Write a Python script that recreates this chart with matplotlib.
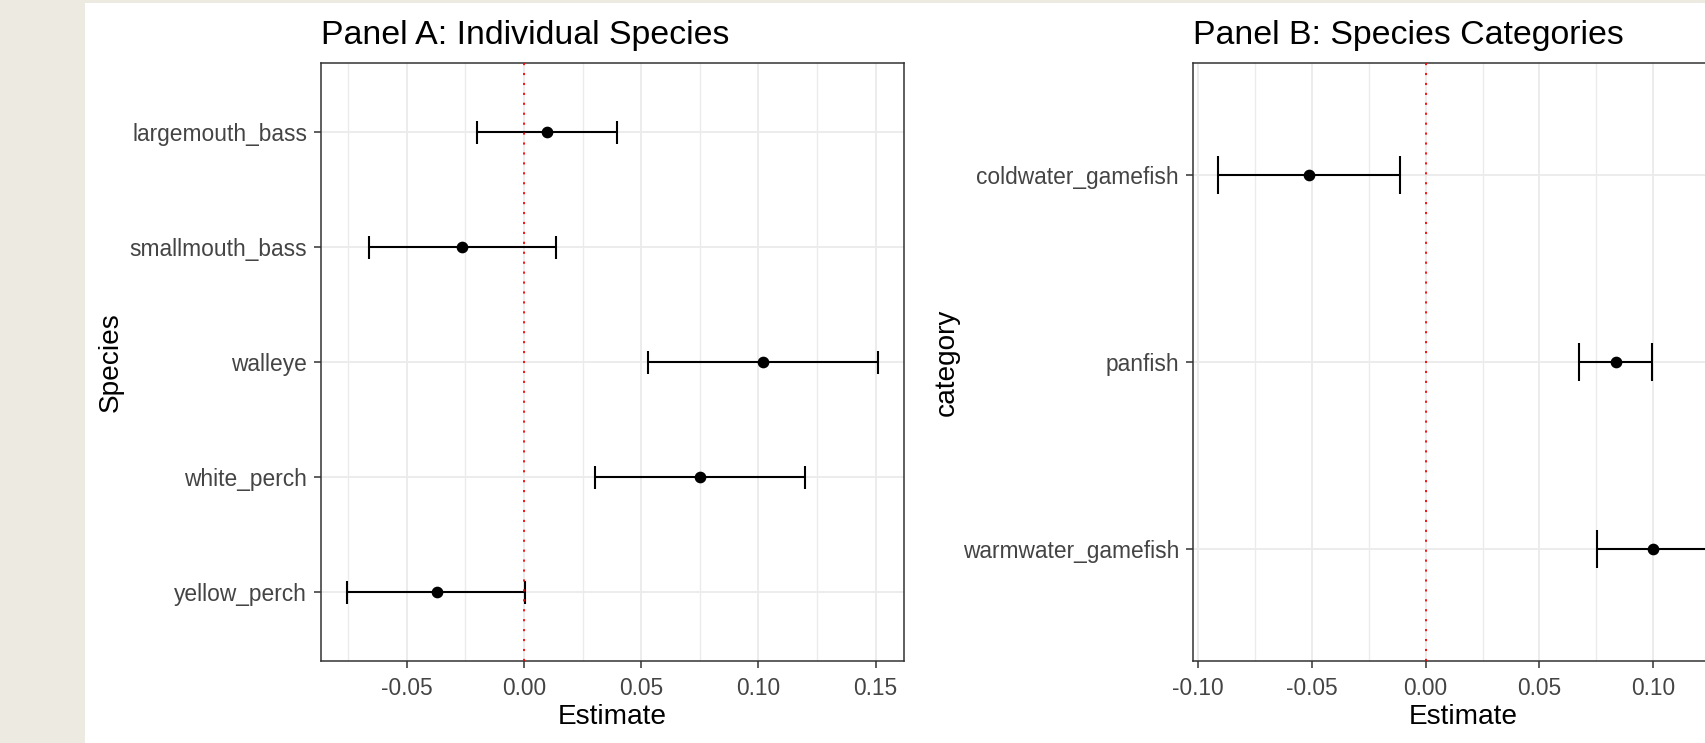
import numpy as np
import matplotlib
matplotlib.use("Agg")
from matplotlib import pyplot as plt
from matplotlib.patches import Rectangle
from matplotlib.ticker import FixedLocator, FuncFormatter

species = ["largemouth_bass", "smallmouth_bass", "walleye", "white_perch", "yellow_perch"]
species_est = [0.0098, -0.0265, 0.1018, 0.0751, -0.0371]
species_lo = [-0.0201, -0.0660, 0.0528, 0.0304, -0.0753]
species_hi = [0.0398, 0.0135, 0.1508, 0.1199, 0.0005]

categories = ["coldwater_gamefish", "panfish", "warmwater_gamefish"]
category_est = [-0.0514, 0.0835, 0.1001]
category_lo = [-0.0914, 0.0676, 0.0755]
category_hi = [-0.0112, 0.0993, 0.1247]

ticks_a = [-0.05, 0.00, 0.05, 0.10, 0.15]
ticks_b = [-0.10, -0.05, 0.00, 0.05, 0.10]

BEIGE = "#EDEBE1"
GRID = "#EBEBEB"
DARK = "#333333"
TICKTXT = "#444444"

plt.rcParams["font.family"] = ["Liberation Sans", "DejaVu Sans"]

W, H = 1706, 743
fig = plt.figure(figsize=(W / 100, H / 100), dpi=100, facecolor=BEIGE)
fig.patches.append(Rectangle((85 / W, 0), 1, 1 - 3 / H, transform=fig.transFigure,
                             facecolor="white", edgecolor="none", zorder=-10))


def px_axes(left, top, right, bottom):
    return fig.add_axes([left / W, 1 - bottom / H, (right - left) / W, (bottom - top) / H])


def draw_panel(ax, labels, est, lo, hi, ticks, title, ylabel, ylabel_x):
    n = len(labels)
    y = np.arange(n)[::-1]
    lo, hi = np.asarray(lo), np.asarray(hi)

    span = hi.max() - lo.min()
    ax.set_xlim(lo.min() - 0.05 * span, hi.max() + 0.05 * span)
    ax.set_ylim(-0.6, n - 0.4)

    step = ticks[1] - ticks[0]
    minor = np.concatenate([np.asarray(ticks) - step / 2, [ticks[-1] + step / 2]])
    ax.xaxis.set_major_locator(FixedLocator(ticks))
    ax.xaxis.set_minor_locator(FixedLocator(minor))
    ax.xaxis.set_major_formatter(FuncFormatter(lambda v, _: f"{round(v, 2) + 0:.2f}"))
    ax.set_yticks(y, labels)

    ax.set_axisbelow(True)
    ax.grid(which="major", color=GRID, lw=1.3)
    ax.grid(which="minor", axis="x", color=GRID, lw=1.0)

    ax.hlines(y, lo, hi, color="black", lw=1.5, zorder=2)
    ax.vlines(np.concatenate([lo, hi]), np.concatenate([y, y]) - 0.1,
              np.concatenate([y, y]) + 0.1, color="black", lw=1.5, zorder=2)
    ax.axvline(0, color="red", lw=1.3, linestyle=(0, (1.2, 4.3)), zorder=3)
    ax.plot(est, y, "o", color="black", ms=7.4, zorder=4)

    for s in ax.spines.values():
        s.set_color(DARK)
        s.set_linewidth(1.1)
    ax.tick_params(which="major", length=5, width=1.1, color=DARK,
                   labelsize=16.4, labelcolor=TICKTXT)
    ax.tick_params(axis="x", which="major", pad=6.5)
    ax.tick_params(axis="y", which="major", pad=5)
    ax.tick_params(which="minor", length=0)

    ax.set_title(title, loc="left", fontsize=24.4, color="black", pad=13.5)
    ax.set_xlabel("Estimate", fontsize=20.2, color="black", va="center")
    ax.xaxis.set_label_coords(0.5, -0.094)
    ax.set_ylabel(ylabel, fontsize=20.2, color="black", va="center")
    ax.yaxis.set_label_coords(ylabel_x, 0.5)


ax_a = px_axes(321, 63, 904, 661)
draw_panel(ax_a, species, species_est, species_lo, species_hi, ticks_a,
           "Panel A: Individual Species", "Species", (111 - 321) / (904 - 321))

ax_b = px_axes(1193, 63, 1734, 661)
draw_panel(ax_b, categories, category_est, category_lo, category_hi, ticks_b,
           "Panel B: Species Categories", "category", (946.6 - 1193) / (1734 - 1193))

fig.savefig("out.png", dpi=100, facecolor=BEIGE)
